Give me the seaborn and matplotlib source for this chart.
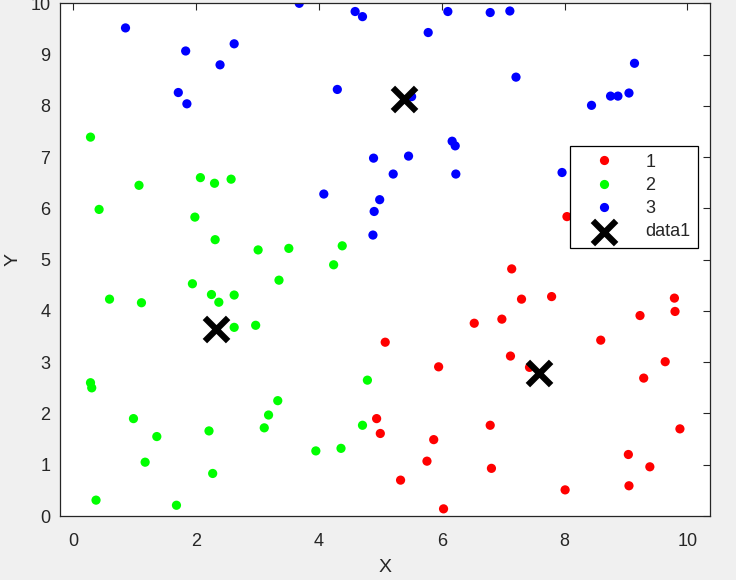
import numpy as np
import matplotlib
matplotlib.use("Agg")
import matplotlib.pyplot as plt
import pandas as pd
import seaborn as sns

# cluster 1 (red)
x1 = [7.14, 7.30, 7.79, 6.98, 6.53, 5.08, 5.95, 7.12, 7.43, 8.59, 9.79, 9.80, 9.23, 9.64,
      9.29, 9.88, 4.94, 5.00, 5.87, 5.76, 6.79, 6.81, 5.33, 6.03, 8.01, 9.04, 9.39, 9.05, 8.04]
y1 = [4.82, 4.23, 4.28, 3.84, 3.76, 3.39, 2.91, 3.12, 2.90, 3.43, 4.25, 3.99, 3.91, 3.01,
      2.69, 1.70, 1.90, 1.61, 1.49, 1.07, 1.77, 0.93, 0.70, 0.14, 0.51, 1.20, 0.96, 0.59, 5.84]

# cluster 2 (green)
x2 = [0.28, 1.07, 0.42, 2.07, 2.30, 2.57, 1.98, 2.31, 3.01, 3.51, 4.38, 4.24, 1.94, 0.59,
      1.11, 2.25, 2.37, 2.62, 3.35, 2.62, 2.97, 0.28, 0.30, 4.79, 3.33, 3.18, 3.11, 0.98,
      1.36, 2.21, 1.17, 2.27, 0.37, 1.68, 3.95, 4.36, 4.71]
y2 = [7.39, 6.45, 5.98, 6.60, 6.49, 6.57, 5.83, 5.39, 5.19, 5.22, 5.27, 4.90, 4.53, 4.23,
      4.16, 4.32, 4.17, 4.31, 4.60, 3.68, 3.72, 2.60, 2.50, 2.65, 2.25, 1.97, 1.72, 1.90,
      1.55, 1.66, 1.05, 0.83, 0.31, 0.21, 1.27, 1.32, 1.77]

# cluster 3 (blue)
x3 = [0.85, 1.83, 2.62, 2.39, 1.71, 1.85, 3.68, 4.59, 4.71, 4.30, 4.08, 6.10, 6.79, 7.11,
      5.78, 7.21, 9.14, 8.44, 8.75, 8.87, 9.05, 5.51, 4.89, 5.46, 6.17, 6.22, 5.21, 6.23,
      7.96, 4.99, 4.90, 4.88]
y3 = [9.52, 9.07, 9.21, 8.80, 8.26, 8.04, 10.0, 9.84, 9.74, 8.32, 6.28, 9.84, 9.82, 9.85,
      9.43, 8.56, 8.83, 8.01, 8.19, 8.19, 8.25, 8.18, 6.98, 7.02, 7.31, 7.22, 6.67, 6.67,
      6.70, 6.17, 5.94, 5.48]

# centroids
cx = [7.58, 2.32, 5.39]
cy = [2.78, 3.64, 8.13]

df = pd.DataFrame({
    'X': x1 + x2 + x3,
    'Y': y1 + y2 + y3,
    'cluster': ['1'] * len(x1) + ['2'] * len(x2) + ['3'] * len(x3),
})

sns.set_style("white")
plt.rcParams['font.family'] = ['Liberation Sans', 'DejaVu Sans']
dark = '#262626'

fig = plt.figure(figsize=(7.36, 5.8), dpi=100, facecolor='#f0f0f0')
ax = fig.add_axes([0.0815, 0.1103, 0.8832, 0.884])

sns.scatterplot(data=df, x='X', y='Y', hue='cluster',
                palette={'1': 'red', '2': '#00ff00', '3': 'blue'},
                s=44, edgecolor='none', ax=ax)
sns.scatterplot(x=cx, y=cy, marker='x', s=280, color='black', linewidth=4.5,
                label='data1', ax=ax)

ax.set_xlim(-0.217, 10.37)
ax.set_ylim(0, 10)
ax.set_xticks([0, 2, 4, 6, 8, 10])
ax.set_yticks(range(0, 11))
ax.tick_params(direction='in', length=5, width=0.8, top=True, right=True,
               labelsize=13, colors=dark)
ax.tick_params(axis='x', pad=12)
ax.tick_params(axis='y', pad=7)
for sp in ax.spines.values():
    sp.set_color(dark)
    sp.set_linewidth(0.9)
ax.set_xlabel('X', fontsize=14, color=dark, labelpad=7)
ax.set_ylabel('Y', fontsize=14, color=dark, labelpad=6)

leg = ax.legend(loc='upper left', bbox_to_anchor=(569.7 / 736, 1 - 146.3 / 580),
                bbox_transform=fig.transFigure, borderaxespad=0, fontsize=13,
                frameon=True, fancybox=False, borderpad=0.4, labelspacing=0.35,
                handlelength=3.0, handletextpad=0.8, markerscale=1.0)
leg.get_frame().set_edgecolor('black')
leg.get_frame().set_linewidth(0.9)
leg.get_frame().set_alpha(1)

fig.savefig('out.png', dpi=100, facecolor=fig.get_facecolor())
